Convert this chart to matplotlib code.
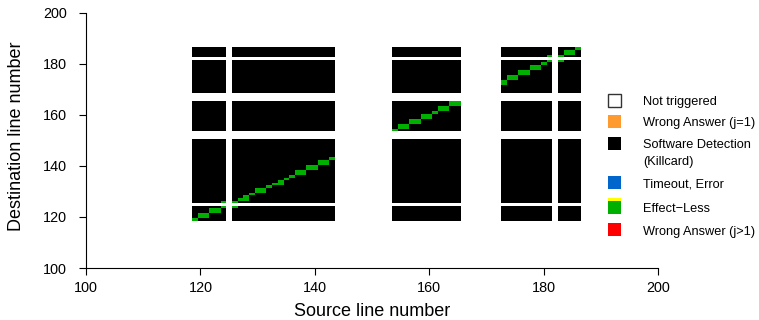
import matplotlib
matplotlib.use('Agg')
import matplotlib.pyplot as plt
import numpy as np
from matplotlib.colors import ListedColormap
from matplotlib.patches import Rectangle

plt.rcParams['font.family'] = ['Liberation Sans', 'DejaVu Sans']

# ---- data -------------------------------------------------------------
# source lines that were injected (columns)
src_lines = [119, 120, 121, 122, 123, 124,
             126, 127, 128, 129, 130, 131, 132, 133, 134, 135, 136, 137, 138,
             139, 140, 141, 142, 143,
             154, 155, 156, 157, 158, 159, 160, 161, 162, 163, 164, 165,
             173, 174, 175, 176, 177, 178, 179, 180, 181,
             183, 184, 185, 186]
# destination lines (rows)
dst_lines = [119, 120, 121, 122, 123, 124,
             126, 127, 128, 129, 130, 131, 132, 133, 134, 135, 136, 137, 138,
             139, 140, 141, 142, 143, 144, 145, 146, 147, 148, 149, 150,
             154, 155, 156, 157, 158, 159, 160, 161, 162, 163, 164, 165,
             169, 170, 171, 172, 173, 174, 175, 176, 177, 178, 179, 180, 181,
             183, 184, 185, 186]
# cells classified "Effect-Less" (all others in src x dst: Software Detection)
effectless_src = [119, 120, 120, 121, 121, 122, 122, 123, 123,
                  124, 124, 126, 126, 127, 128, 128, 129,
                  130, 130, 131, 131, 132, 133, 134, 134, 135, 136,
                  137, 137, 138, 138, 139, 139, 140, 140,
                  141, 141, 142, 142, 143,
                  154, 155, 155, 156, 156, 157, 157, 158, 158,
                  159, 159, 160, 160, 161, 162, 162, 163, 163,
                  164, 164, 165, 165,
                  173, 173, 174, 174, 175, 175, 176, 176, 177, 177,
                  178, 178, 179, 179, 180, 181, 181, 183, 183,
                  184, 184, 185, 185, 186]
effectless_dst = [119, 120, 121, 120, 121, 122, 123, 122, 123,
                  124, 126, 124, 126, 127, 127, 128, 129,
                  130, 131, 130, 131, 132, 133, 133, 134, 135, 136,
                  137, 138, 137, 138, 139, 140, 139, 140,
                  141, 142, 141, 142, 143,
                  154, 155, 156, 155, 156, 157, 158, 157, 158,
                  159, 160, 159, 160, 161, 162, 163, 162, 163,
                  164, 165, 164, 165,
                  172, 173, 174, 175, 174, 175, 176, 177, 176, 177,
                  178, 179, 178, 179, 180, 181, 183, 181, 183,
                  184, 185, 184, 185, 186]

axis_ticks = [100, 120, 140, 160, 180, 200]

legend_labels = ['Not triggered', 'Wrong Answer (j=1)', 'Software Detection',
                 'Timeout, Error', 'Effect\u2212Less', 'Wrong Answer (j>1)']
legend_colors = ['white', '#FF9A2E', 'black', '#0066CC', '#00B000', '#FF0000']

GREEN = '#00B000'
YELLOW = '#FFFF00'

# ---- figure -------------------------------------------------------------
W, H = 759, 320
fig = plt.figure(figsize=(W / 100, H / 100), dpi=100)
ax = fig.add_axes([86 / W, 1 - 268 / H, 572 / W, 255 / H])

lo = min(min(src_lines), min(dst_lines))
hi = max(max(src_lines), max(dst_lines))
n = hi - lo + 1
grid = np.zeros((n, n))
for s in src_lines:
    for d in dst_lines:
        grid[d - lo, s - lo] = 1
for s, d in zip(effectless_src, effectless_dst):
    grid[d - lo, s - lo] = 2

cmap = ListedColormap(['black', GREEN])
ax.imshow(np.ma.masked_equal(grid, 0), cmap=cmap, vmin=0.5, vmax=2.5,
          origin='lower', extent=[lo - 0.5, hi + 0.5, lo - 0.5, hi + 0.5],
          aspect='auto', interpolation='nearest')

ax.set_xlim(100, 200)
ax.set_ylim(100, 200)
ax.set_xticks(axis_ticks)
ax.set_yticks(axis_ticks)
for sp in ['top', 'right']:
    ax.spines[sp].set_visible(False)
for sp in ['left', 'bottom']:
    ax.spines[sp].set_linewidth(0.8)
ax.tick_params(direction='out', length=5, width=0.8, labelsize=10.4)
ax.tick_params(axis='x', pad=4.3)
ax.tick_params(axis='y', pad=9.0)

fig.text(372.5 / W, 1 - 312 / H, 'Source line number', ha='center', va='center',
         fontsize=13)
fig.text(17 / W, 1 - 136.5 / H, 'Destination line number', ha='center',
         va='center', rotation=90, fontsize=13)

# ---- legend -------------------------------------------------------------
sq_left, sq = 608, 13
sq_centers = [100, 121, 143.5, 182.5, 207.5, 229.5]
txt_centers = [101.5, 123, 145, 184.5, 209, 232]
for i, (lab, col) in enumerate(zip(legend_labels, legend_colors)):
    cy = sq_centers[i]
    ec = '#333333' if col == 'white' else col
    lw = 1.0 if col == 'white' else 0
    fig.add_artist(Rectangle((sq_left / W, 1 - (cy + sq / 2) / H), sq / W, sq / H,
                             transform=fig.transFigure, facecolor=col,
                             edgecolor=ec, linewidth=lw))
    if col == GREEN:
        fig.add_artist(Rectangle((sq_left / W, 1 - (cy - sq / 2) / H), sq / W, 3 / H,
                                 transform=fig.transFigure, facecolor=YELLOW,
                                 edgecolor='none', linewidth=0))
    fig.text(643 / W, 1 - txt_centers[i] / H, lab, ha='left', va='center',
             fontsize=9.2)
fig.text(643 / W, 1 - 162 / H, '(Killcard)', ha='left', va='center', fontsize=9.2)

fig.savefig('out.png', dpi=100)
